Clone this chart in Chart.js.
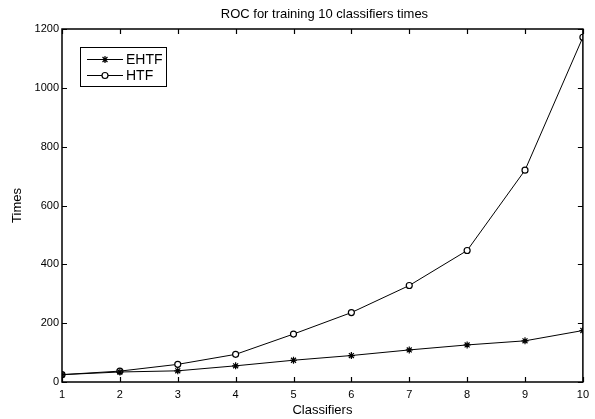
<!DOCTYPE html>
<html>
<head>
<meta charset="utf-8">
<script src="https://cdn.jsdelivr.net/npm/chart.js@4/dist/chart.umd.min.js"></script>
<style>
html,body{margin:0;padding:0;background:#fff;}
#wrap{width:595px;height:419px;position:relative;}
</style>
</head>
<body>
<div id="wrap"><canvas id="c" width="595" height="419"></canvas></div>
<script>
const categories = [1, 2, 3, 4, 5, 6, 7, 8, 9, 10];
const ehtfValues = [25, 34, 38, 55, 74, 90, 109, 126, 140, 175];
const htfValues = [25, 37, 60, 94, 163, 236, 328, 447, 720, 1172];
const xTicks = [1, 2, 3, 4, 5, 6, 7, 8, 9, 10];
const yTicks = [0, 200, 400, 600, 800, 1000, 1200];
const titleText = 'ROC for training 10 classifiers times';
const xLabel = 'Classifiers';
const yLabel = 'Times';
const seriesNames = ['EHTF', 'HTF'];

const FONT = '"Liberation Sans", Arial, Helvetica, sans-serif';

const framePlugin = {
  id: 'frame',
  afterDraw(chart) {
    const ctx = chart.ctx;
    const a = chart.chartArea;
    const xs = chart.scales.x, ys = chart.scales.y;
    ctx.save();
    ctx.strokeStyle = '#000';
    ctx.lineWidth = 1.5;
    ctx.strokeRect(a.left, a.top, a.right - a.left, a.bottom - a.top);
    ctx.lineWidth = 1.2;
    const tl = 5;
    ctx.beginPath();
    xTicks.forEach(v => {
      const px = Math.round(xs.getPixelForValue(v)) + 0.5;
      ctx.moveTo(px, a.bottom); ctx.lineTo(px, a.bottom - tl);
      ctx.moveTo(px, a.top); ctx.lineTo(px, a.top + tl);
    });
    yTicks.forEach(v => {
      const py = Math.round(ys.getPixelForValue(v)) + 0.5;
      ctx.moveTo(a.left, py); ctx.lineTo(a.left + tl, py);
      ctx.moveTo(a.right, py); ctx.lineTo(a.right - tl, py);
    });
    ctx.stroke();

    // title
    ctx.fillStyle = '#000';
    ctx.font = '13px ' + FONT;
    ctx.textAlign = 'center';
    ctx.textBaseline = 'middle';
    ctx.fillText(titleText, (a.left + a.right) / 2 + 2, 14);
    // x label
    ctx.font = '13px ' + FONT;
    ctx.fillText(xLabel, (a.left + a.right) / 2, 410);
    // y label
    ctx.save();
    ctx.translate(17, (a.top + a.bottom) / 2);
    ctx.rotate(-Math.PI / 2);
    ctx.fillText(yLabel, 0, 0);
    ctx.restore();

    // legend
    const lx = 80, ly = 47, lw = 86, lh = 39;
    ctx.fillStyle = '#fff';
    ctx.fillRect(lx, ly, lw, lh);
    ctx.lineWidth = 1;
    ctx.strokeStyle = '#000';
    ctx.strokeRect(lx + 0.5, ly + 0.5, lw, lh);
    const rows = [59, 75];
    chart.data.datasets.forEach((ds, i) => {
      const y = rows[i] + 0.5;
      ctx.beginPath();
      ctx.lineWidth = 1;
      ctx.strokeStyle = '#000';
      ctx.moveTo(87, y); ctx.lineTo(123, y);
      ctx.stroke();
      ctx.fillStyle = ds.pointBackgroundColor;
      ctx.strokeStyle = ds.pointBorderColor;
      ctx.lineWidth = ds.pointBorderWidth;
      Chart.helpers.drawPoint(ctx, {
        pointStyle: ds.pointStyle,
        radius: ds.pointRadius,
        borderWidth: ds.pointBorderWidth,
        rotation: 0
      }, 105, y);
      ctx.fillStyle = '#000';
      ctx.font = '14px ' + FONT;
      ctx.textAlign = 'left';
      ctx.textBaseline = 'middle';
      ctx.fillText(seriesNames[i], 126, y + 1);
    });
    ctx.restore();
  }
};

new Chart(document.getElementById('c'), {
  type: 'line',
  data: {
    datasets: [
      {
        label: seriesNames[0],
        data: categories.map((c, i) => ({x: c, y: ehtfValues[i]})),
        borderColor: '#000',
        backgroundColor: '#000',
        borderWidth: 1,
        pointStyle: 'star',
        pointRadius: 3.5,
        pointBorderColor: '#000',
        pointBackgroundColor: '#000',
        pointBorderWidth: 1.2,
        tension: 0
      },
      {
        label: seriesNames[1],
        data: categories.map((c, i) => ({x: c, y: htfValues[i]})),
        borderColor: '#000',
        backgroundColor: '#fff',
        borderWidth: 1,
        pointStyle: 'circle',
        pointRadius: 3,
        pointBorderColor: '#000',
        pointBackgroundColor: '#fff',
        pointBorderWidth: 1.2,
        tension: 0
      }
    ]
  },
  options: {
    responsive: false,
    animation: false,
    events: [],
    layout: { padding: { top: 29, right: 5, left: 0, bottom: 0 } },
    plugins: { legend: { display: false }, title: { display: false }, tooltip: { enabled: false } },
    scales: {
      x: {
        type: 'linear',
        min: 1, max: 10,
        afterFit(s) { s.height = 37; },
        afterBuildTicks(s) { s.ticks = xTicks.map(v => ({value: v})); },
        grid: { display: false, drawTicks: false },
        border: { display: false },
        ticks: { color: '#000', font: { family: FONT, size: 11 }, padding: 6, maxRotation: 0, autoSkip: false,
                 callback: v => String(v) }
      },
      y: {
        type: 'linear',
        min: 0, max: 1200,
        afterFit(s) { s.width = 62; },
        afterBuildTicks(s) { s.ticks = yTicks.map(v => ({value: v})); },
        grid: { display: false, drawTicks: false },
        border: { display: false },
        ticks: { color: '#000', font: { family: FONT, size: 11 }, padding: 3,
                 callback: v => String(v) }
      }
    }
  },
  plugins: [framePlugin]
});
</script>
</body>
</html>
